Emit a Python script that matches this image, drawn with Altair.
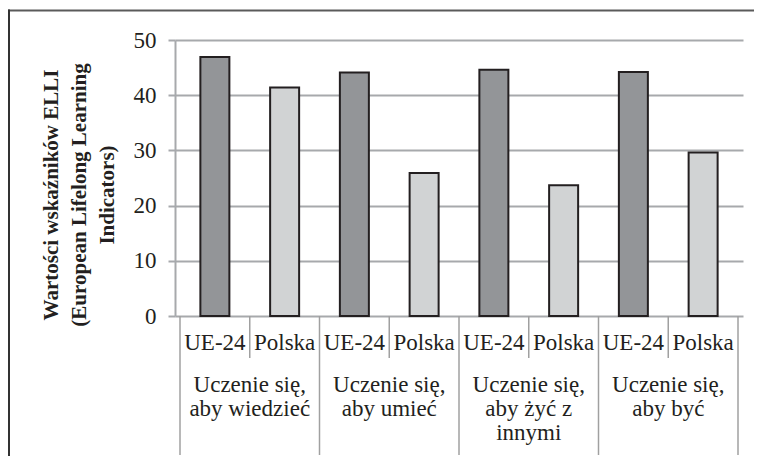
import altair as alt
import pandas as pd

# ---- data ----
groups = ["Uczenie się,\naby wiedzieć", "Uczenie się,\naby umieć",
          "Uczenie się,\naby żyć z\ninnymi", "Uczenie się,\naby być"]
series = ["UE-24", "Polska"]
ue24 = [46.9, 44.1, 44.6, 44.2]
polska = [41.4, 25.9, 23.7, 29.6]
y_ticks = [0, 10, 20, 30, 40, 50]
y_title = "Wartości wskaźników ELLI\n(European Lifelong Learning\nIndicators)"

values = {"UE-24": ue24, "Polska": polska}
rows = []
for gi, g in enumerate(groups):
    for si, s in enumerate(series):
        rows.append({"group": g, "series": s, "idx": gi * len(series) + si,
                     "value": values[s][gi]})
df = pd.DataFrame(rows)
n_slots = len(df)

grp_df = pd.DataFrame({"group": groups, "gi": list(range(len(groups)))})
sep_df = pd.DataFrame({"pos": list(range(n_slots + 1))})
title_df = pd.DataFrame({"t": [y_title]})

FONT = "Liberation Serif"
TXT = "#231f20"
GRID = "#a7a9ac"

xscale = alt.Scale(domain=[0, n_slots], nice=False, zero=False)

bars = alt.Chart(df).transform_calculate(
    center="datum.idx + 0.5"
).mark_bar(size=29, stroke=TXT, strokeWidth=2).encode(
    x=alt.X("center:Q", scale=xscale, axis=None),
    y=alt.Y("value:Q", scale=alt.Scale(domain=[0, 50], nice=False),
            axis=alt.Axis(values=y_ticks, grid=True, gridColor=GRID, gridWidth=2,
                          tickColor=GRID, tickWidth=2, tickSize=7,
                          domainColor=GRID, domainWidth=2,
                          labelFont=FONT, labelFontSize=23, labelColor=TXT,
                          labelPadding=12, title=None)),
    color=alt.Color("series:N", scale=alt.Scale(domain=series,
                                                range=["#939598", "#d1d3d4"]),
                    legend=None),
)

# separators below the axis: long between groups, short within groups
long_sep = alt.Chart(sep_df).transform_filter("datum.pos % 2 == 0").mark_rule(
    color="#a0a0a0", strokeWidth=1.5
).encode(x=alt.X("pos:Q", scale=xscale, axis=None),
         y=alt.value(276), y2=alt.value(415))

short_sep = alt.Chart(sep_df).transform_filter("datum.pos % 2 == 1").mark_rule(
    color="#a0a0a0", strokeWidth=1.5
).encode(x=alt.X("pos:Q", scale=xscale, axis=None),
         y=alt.value(276), y2=alt.value(318))

series_lbl = alt.Chart(df).transform_calculate(
    center="datum.idx + 0.5"
).mark_text(font=FONT, fontSize=23, color=TXT, baseline="alphabetic",
            align="center").encode(
    x=alt.X("center:Q", scale=xscale, axis=None),
    y=alt.value(310),
    text="series:N",
)

group_lbl = alt.Chart(grp_df).transform_calculate(
    center="datum.gi * 2 + 1"
).mark_text(font=FONT, fontSize=23, color=TXT, baseline="alphabetic",
            align="center", lineBreak="\n", lineHeight=24).encode(
    x=alt.X("center:Q", scale=xscale, axis=None),
    y=alt.value(352),
    text="group:N",
)

ytitle = alt.Chart(title_df).mark_text(
    font=FONT, fontSize=21, fontWeight="bold", color=TXT, angle=270,
    align="center", baseline="middle", lineBreak="\n", lineHeight=28
).encode(x=alt.value(-123), y=alt.value(155), text="t:N")

frame_top = alt.Chart(title_df).mark_rule(color="#5a5a5a", strokeWidth=2).encode(
    x=alt.value(-167), x2=alt.value(600), y=alt.value(-29.5))
frame_left = alt.Chart(title_df).mark_rule(color="#333333", strokeWidth=2).encode(
    x=alt.value(-166), y=alt.value(-30.5), y2=alt.value(440))

chart = alt.layer(
    long_sep, short_sep, bars, series_lbl, group_lbl, ytitle, frame_top, frame_left
).properties(
    width=568, height=276,
    autosize=alt.AutoSizeParams(type="none"),
    padding={"left": 167, "top": 32, "right": 11, "bottom": 140},
).configure_view(stroke=None)

chart.save("out.html", embed_options={"renderer": "svg", "actions": False})
